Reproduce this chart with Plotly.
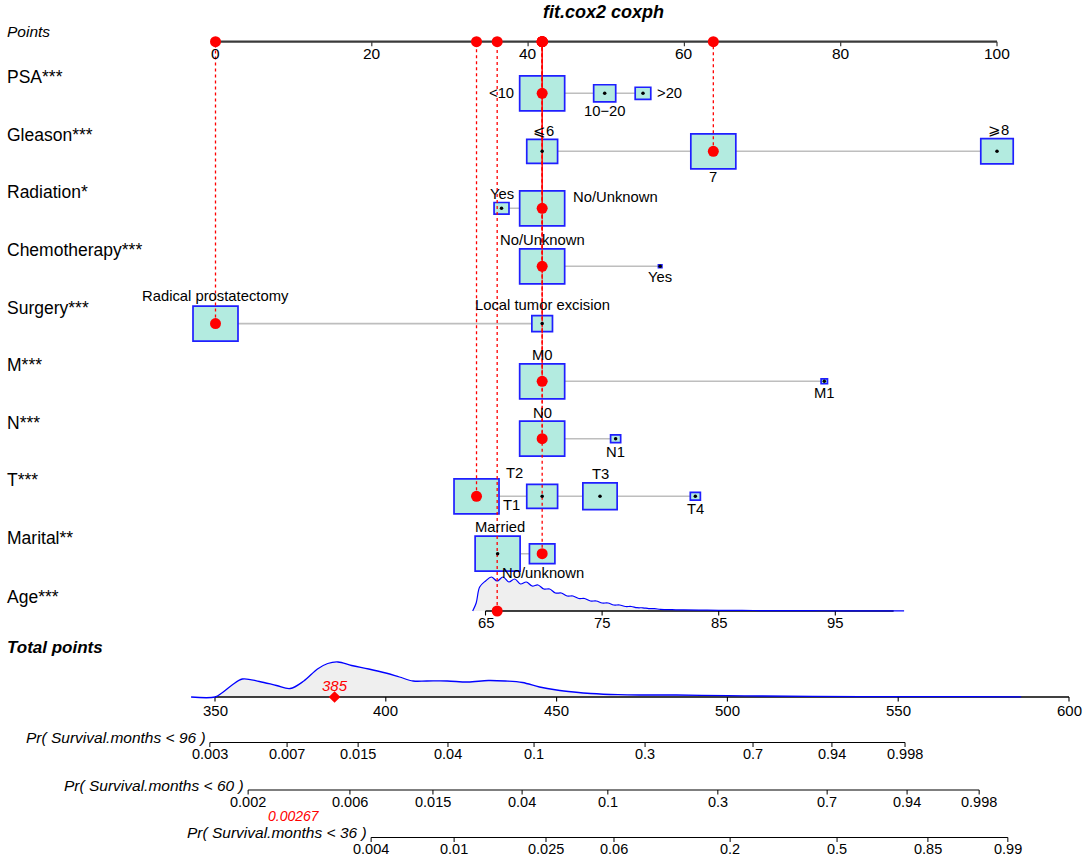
import numpy as np
import plotly.graph_objects as go

# ---------------- data ----------------
title_text = "fit.cox2 coxph"
points_ticks = [0, 20, 40, 60, 80, 100]

var_names = ["PSA***", "Gleason***", "Radiation*", "Chemotherapy***", "Surgery***",
             "M***", "N***", "T***", "Marital**"]

psa_levels = ["<10", "10−20", ">20"]
psa_points = [41.8, 49.8, 54.7]
psa_freq = [1.0, 0.24, 0.12]

gleason_levels = ["⩽6", "7", "⩾8"]
gleason_points = [41.8, 63.7, 100.0]
gleason_freq = [0.47, 1.0, 0.52]

radiation_levels = ["Yes", "No/Unknown"]
radiation_points = [36.6, 41.8]
radiation_freq = [0.11, 1.0]

chemo_levels = ["No/Unknown", "Yes"]
chemo_points = [41.8, 56.9]
chemo_freq = [1.0, 0.006]

surgery_levels = ["Radical prostatectomy", "Local tumor excision"]
surgery_points = [0.0, 41.8]
surgery_freq = [1.0, 0.21]

m_levels = ["M0", "M1"]
m_points = [41.8, 77.9]
m_freq = [1.0, 0.02]

n_levels = ["N0", "N1"]
n_points = [41.8, 51.2]
n_freq = [1.0, 0.05]

t_levels = ["T1", "T2", "T3", "T4"]
t_points = [33.4, 41.8, 49.2, 61.4]
t_freq = [1.0, 0.47, 0.58, 0.05]

marital_levels = ["Married", "No/unknown"]
marital_points = [36.1, 41.8]
marital_freq = [1.0, 0.32]

selected_level = [0, 1, 1, 0, 0, 0, 0, 0, 1]

age_scale_ages = [65, 100]
age_scale_points = [34.55, 86.77]
age_ticks = [65, 75, 85, 95]
age_value = 66
age_density_x = [63.9, 64.2, 64.5, 65.0, 65.5, 66.0, 66.5, 67.0, 67.5, 68.0, 68.5, 69.0,
                 69.5, 70.0, 70.5, 71.0, 71.5, 72.0, 72.5, 73.0, 73.5, 74.0, 74.5, 75.0,
                 75.5, 76.0, 76.5, 77.0, 77.5, 78.0, 78.5, 79.0, 79.5, 80.0, 81.0, 82.0,
                 84.0, 86.0, 88.0, 90.0, 93.0, 96.0, 100.0, 100.9]
age_density_y = [0, 8, 24, 30, 34, 30, 34, 29, 32, 27, 29, 25,
                 26, 22, 22, 18, 18, 15, 15, 12.5, 12.5, 10, 10, 8,
                 8, 6, 6, 4.5, 4.5, 3.3, 3.2, 2.4, 2.3, 1.7, 1.3, 1.1,
                 0.8, 0.6, 0.5, 0.4, 0.3, 0.2, 0.1, 0.05]

total_ticks = [350, 400, 450, 500, 550, 600]
total_value = 385
total_density_x = [343, 350, 352, 355, 358, 363, 368, 372, 376, 380, 383, 386, 390, 395,
                   400, 404, 408, 412, 418, 424, 430, 435, 440, 445, 450, 455, 460, 468,
                   475, 485, 500, 510, 525, 550, 570, 586]
total_density_y = [0, 0, 4, 12, 18, 15.5, 11.5, 8.5, 16, 28, 33.5, 35, 31.5, 28,
                   24, 20, 16, 16, 16, 15, 16.5, 16, 14.5, 10, 7, 5, 3.5, 2.3,
                   2, 2, 1.3, 1, 0.6, 0.4, 0.3, 0.2]

prob_titles = ["Pr( Survival.months < 96 )", "Pr( Survival.months < 60 )",
               "Pr( Survival.months < 36 )"]
prob96_labels = ["0.003", "0.007", "0.015", "0.04", "0.1", "0.3", "0.7", "0.94", "0.998"]
prob96_at = [348.5, 371.1, 391.9, 418.2, 443.4, 475.9, 507.5, 530.6, 552.0]
prob60_labels = ["0.002", "0.006", "0.015", "0.04", "0.1", "0.3", "0.7", "0.94", "0.998"]
prob60_at = [359.7, 389.5, 413.8, 439.9, 465.0, 497.2, 529.2, 552.6, 573.7]
prob36_labels = ["0.004", "0.01", "0.025", "0.06", "0.2", "0.5", "0.85", "0.99"]
prob36_at = [395.7, 420.0, 446.9, 466.8, 500.8, 532.1, 558.7, 582.1]
prob36_value_label = "0.00267"

# ---------------- layout / style ----------------
W, H = 1084, 857
FONT = "Liberation Sans, Arial, sans-serif"
BOX_FILL = "#B3EBE0"
BOX_LINE = "#1F1FFF"
RED = "#FF0000"
row_y = [93.3, 151.3, 208.3, 266.3, 323.6, 381.3, 438.7, 496.3, 553.7]
age_y = 611
points_y = 41.7
total_y = 697
prob_y = [742.5, 790, 837.5]
BOX_W, BOX_H = 45, 35
TICK = 4.5
LEVEL_FS = 14.8

label_offsets = [
    [(-41, 0), (0, 18), (27, 0)],
    [(1, -20.5), (0, 26), (1, -21.5)],
    [(0, -14), (73, -11)],
    [(0, -26), (0, 10.5)],
    [(0, -27.5), (0, -18.7)],
    [(0, -26.3), (0, 12)],
    [(0, -26), (0, 13)],
    [(35, 8.7), (-27.6, -23.6), (0, -22), (0, 12.7)],
    [(2, -27), (0.6, 19.6)],
]

variables = [
    (psa_levels, psa_points, psa_freq),
    (gleason_levels, gleason_points, gleason_freq),
    (radiation_levels, radiation_points, radiation_freq),
    (chemo_levels, chemo_points, chemo_freq),
    (surgery_levels, surgery_points, surgery_freq),
    (m_levels, m_points, m_freq),
    (n_levels, n_points, n_freq),
    (t_levels, t_points, t_freq),
    (marital_levels, marital_points, marital_freq),
]

fig = go.Figure()
shapes = []
annotations = []


def ann(text, x, y, xref="x", size=14.5, color="black", xanchor="center", yanchor="middle",
        xshift=0, yshift=0):
    annotations.append(dict(text=text, x=x, y=y, xref=xref, yref="y", showarrow=False,
                            font=dict(family=FONT, size=size, color=color),
                            xanchor=xanchor, yanchor=yanchor, xshift=xshift, yshift=yshift))


def age_to_points(a):
    slope = (age_scale_points[1] - age_scale_points[0]) / (age_scale_ages[1] - age_scale_ages[0])
    return age_scale_points[0] + (np.asarray(a, float) - age_scale_ages[0]) * slope


# title
ann("<b><i>" + title_text + "</i></b>", 541 / W, 12, xref="paper", size=18, xanchor="left")

# Points axis
fig.add_trace(go.Scatter(x=[points_ticks[0], points_ticks[-1]], y=[points_y, points_y],
                         mode="lines", line=dict(color="#3a3a3a", width=2.2), hoverinfo="skip"))
tx, ty = [], []
for t in points_ticks:
    tx += [t, t, None]
    ty += [points_y, points_y + TICK, None]
    ann(str(t), t, points_y + 12, size=15.5)
fig.add_trace(go.Scatter(x=tx, y=ty, mode="lines", line=dict(color="#3a3a3a", width=1.2),
                         hoverinfo="skip"))
ann("<i>Points</i>", 5 / W, points_y - 10, xref="paper", size=15.5, xanchor="left")

# rows
red_lines = []
red_pts = []
black_x, black_y = [], []
for i, (levels, pts, freq) in enumerate(variables):
    y = row_y[i]
    ann(var_names[i], 5 / W, y - 16, xref="paper", size=17.5, xanchor="left")
    shapes.append(dict(type="line", xref="x", yref="y", x0=min(pts), x1=max(pts), y0=y, y1=y,
                       line=dict(color="#BEBEBE", width=1.6), layer="below"))
    for j, (lv, p, f) in enumerate(zip(levels, pts, freq)):
        w = BOX_W * np.sqrt(f)
        h = BOX_H * np.sqrt(f)
        shapes.append(dict(type="rect", xref="x", yref="y", xsizemode="pixel", ysizemode="pixel",
                           xanchor=p, yanchor=y, x0=-w / 2, x1=w / 2, y0=-h / 2, y1=h / 2,
                           fillcolor=BOX_FILL, line=dict(color=BOX_LINE, width=1.7), layer="below"))
        dx, dy = label_offsets[i][j]
        ann(lv, p, y, size=LEVEL_FS, xshift=dx, yshift=-dy)
        if j == selected_level[i]:
            red_lines.append((p, y))
            red_pts.append((p, y))
        else:
            black_x.append(p)
            black_y.append(y)

# Age axis
age_pts_axis = age_to_points(np.array(age_scale_ages))
dens_x = age_to_points(np.array(age_density_x))
age_scale = 34.0 / max(age_density_y)
dens_y = age_y - np.array(age_density_y) * age_scale
fig.add_trace(go.Scatter(x=list(dens_x) + [dens_x[-1], dens_x[0]],
                         y=list(dens_y) + [age_y, age_y], fill="toself",
                         fillcolor="#EFEFEF", line=dict(width=0), mode="lines", hoverinfo="skip"))
fig.add_trace(go.Scatter(x=list(age_pts_axis), y=[age_y, age_y], mode="lines",
                         line=dict(color="black", width=1.3), hoverinfo="skip"))
tx, ty = [], []
for a in age_ticks:
    p = float(age_to_points(a))
    tx += [p, p, None]
    ty += [age_y, age_y + TICK, None]
    ann(str(a), p, age_y + 11.5, size=LEVEL_FS)
fig.add_trace(go.Scatter(x=tx, y=ty, mode="lines", line=dict(color="black", width=1.1),
                         hoverinfo="skip"))
fig.add_trace(go.Scatter(x=dens_x, y=dens_y, mode="lines", line=dict(color="#0000FF", width=1.2),
                         line_shape="spline", hoverinfo="skip"))
ann("Age***", 5 / W, age_y - 14, xref="paper", size=17.5, xanchor="left")
age_p = float(age_to_points(age_value))
red_lines.append((age_p, age_y))
red_pts.append((age_p, age_y))

# red dotted guide lines (drawn from each row up to the points axis)
for (p, y) in red_lines:
    fig.add_trace(go.Scatter(x=[p, p], y=[y, points_y], mode="lines",
                             line=dict(color=RED, width=1.3, dash="dot"), hoverinfo="skip"))

# black centre dots
fig.add_trace(go.Scatter(x=black_x, y=black_y, mode="markers",
                         marker=dict(color="black", size=3.5), hoverinfo="skip"))
# red selected dots
fig.add_trace(go.Scatter(x=[p for p, _ in red_pts], y=[y for _, y in red_pts], mode="markers",
                         marker=dict(color=RED, size=11), hoverinfo="skip"))
fig.add_trace(go.Scatter(x=[p for p, _ in red_pts], y=[points_y] * len(red_pts), mode="markers",
                         marker=dict(color=RED, size=11), hoverinfo="skip"))

# Total points
ann("<b><i>Total points</i></b>", 5 / W, total_y - 50, xref="paper", size=17, xanchor="left")
td_y = total_y - np.array(total_density_y) * (35.0 / max(total_density_y))
fig.add_trace(go.Scatter(x=total_density_x + [total_density_x[-1], total_density_x[0]],
                         y=list(td_y) + [total_y, total_y], fill="toself", fillcolor="#EFEFEF",
                         line=dict(width=0), mode="lines", xaxis="x2", hoverinfo="skip"))
fig.add_trace(go.Scatter(x=[total_ticks[0], total_ticks[-1]], y=[total_y, total_y], mode="lines",
                         line=dict(color="black", width=1.3), xaxis="x2", hoverinfo="skip"))
tx, ty = [], []
for t in total_ticks:
    tx += [t, t, None]
    ty += [total_y, total_y + TICK, None]
    ann(str(t), t, total_y + 13, xref="x2", size=15)
fig.add_trace(go.Scatter(x=tx, y=ty, mode="lines", line=dict(color="black", width=1.1),
                         xaxis="x2", hoverinfo="skip"))
fig.add_trace(go.Scatter(x=total_density_x, y=td_y, mode="lines", line=dict(color="#0000FF", width=1.3),
                         line_shape="spline", xaxis="x2", hoverinfo="skip"))
fig.add_trace(go.Scatter(x=[total_value], y=[total_y], mode="markers", xaxis="x2",
                         marker=dict(color=RED, size=9, symbol="diamond"), hoverinfo="skip"))
ann("<i>%d</i>" % total_value, total_value, total_y - 12, xref="x2", size=15, color=RED)

# probability axes
for k, (labels, at) in enumerate([(prob96_labels, prob96_at), (prob60_labels, prob60_at),
                                  (prob36_labels, prob36_at)]):
    y = prob_y[k]
    fig.add_trace(go.Scatter(x=[at[0], at[-1]], y=[y, y], mode="lines", xaxis="x2",
                             line=dict(color="black", width=1.2), hoverinfo="skip"))
    tx, ty = [], []
    for lab, a in zip(labels, at):
        tx += [a, a, None]
        ty += [y, y + TICK, None]
        ann(lab, a, y + 11.5, xref="x2", size=14.5)
    fig.add_trace(go.Scatter(x=tx, y=ty, mode="lines", xaxis="x2",
                             line=dict(color="black", width=1.0), hoverinfo="skip"))
    ann("<i>" + prob_titles[k] + "</i>", at[0], y - 5, xref="x2", size=15.5, xanchor="right",
        xshift=-2)
ann("<i>" + prob36_value_label + "</i>", total_value, prob_y[2] - 21.5, xref="x2", size=14,
    color=RED, xshift=-41)

fig.update_layout(
    width=W, height=H, margin=dict(l=0, r=0, t=0, b=0),
    paper_bgcolor="white", plot_bgcolor="white", showlegend=False,
    xaxis=dict(range=[-215.5 / 7.815, (W - 215.5) / 7.815], visible=False, fixedrange=True),
    xaxis2=dict(range=[350 - 215 / 3.416, 350 + (W - 215) / 3.416], overlaying="x",
                visible=False, fixedrange=True),
    yaxis=dict(range=[H, 0], visible=False, fixedrange=True),
    shapes=shapes, annotations=annotations,
)

fig.write_html("out.html", config={"displayModeBar": False},
               post_script="document.body.style.margin='0';document.body.style.overflow='hidden';")
